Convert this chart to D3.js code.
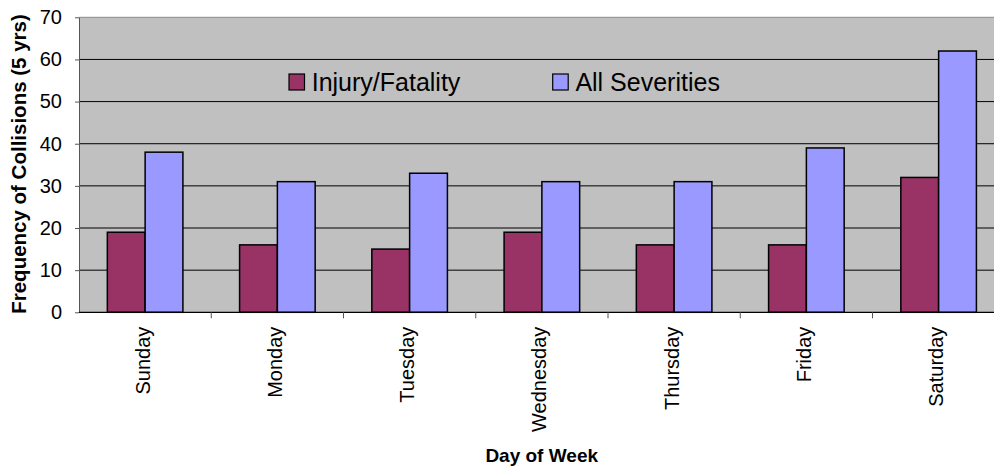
<!DOCTYPE html>
<html>
<head>
<meta charset="utf-8">
<script src="https://cdn.jsdelivr.net/npm/d3@7"></script>
<style>
  body { margin: 0; background: #fff; }
  svg { display: block; font-family: Arial, "Liberation Sans", sans-serif; }
</style>
</head>
<body>
<div id="chart"></div>
<script>
// chart data
var days = ["Sunday", "Monday", "Tuesday", "Wednesday", "Thursday", "Friday", "Saturday"];
var seriesNames = ["Injury/Fatality", "All Severities"];
var injuryFatality = [19, 16, 15, 19, 16, 16, 32];
var allSeverities = [38, 31, 33, 31, 31, 39, 62];
var yTicks = [0, 10, 20, 30, 40, 50, 60, 70];

var colours = { "Injury/Fatality": "#993366", "All Severities": "#9999ff" };

var width = 994, height = 468;
var plot = { left: 79, right: 1004.75, top: 17.3, bottom: 312.3 };

var svg = d3.select('#chart').append('svg')
    .attr('width', width)
    .attr('height', height)
    .style('overflow', 'hidden');

// scales
var x0 = d3.scaleBand()
    .domain(days)
    .range([plot.left, plot.right])
    .padding(0);

var x1 = d3.scaleBand()
    .domain(seriesNames)
    .range([0, x0.bandwidth()])
    .paddingInner(0)
    .paddingOuter(0.75);

var y = d3.scaleLinear()
    .domain([0, 70])
    .range([plot.bottom, plot.top]);

// plot area background
svg.append('rect')
    .attr('x', plot.left)
    .attr('y', plot.top)
    .attr('width', plot.right - plot.left)
    .attr('height', plot.bottom - plot.top)
    .attr('fill', '#c0c0c0');

// gridlines
svg.append('g').attr('class', 'grid')
    .selectAll('line')
    .data(yTicks.filter(function(d) { return d > 0; }))
    .enter().append('line')
    .attr('x1', plot.left)
    .attr('x2', plot.right)
    .attr('y1', function(d) { return y(d); })
    .attr('y2', function(d) { return y(d); })
    .attr('stroke', function(d) { return d === 70 ? '#8a8a8a' : '#000'; })
    .attr('stroke-width', 1);

// bars
var rows = days.map(function(d, i) {
    return { day: d, values: [
        { key: seriesNames[0], value: injuryFatality[i] },
        { key: seriesNames[1], value: allSeverities[i] }
    ] };
});

svg.append('g').attr('class', 'bars')
    .selectAll('g')
    .data(rows)
    .enter().append('g')
    .attr('transform', function(d) { return 'translate(' + x0(d.day) + ',0)'; })
    .selectAll('rect')
    .data(function(d) { return d.values; })
    .enter().append('rect')
    .attr('x', function(d) { return x1(d.key); })
    .attr('y', function(d) { return y(d.value); })
    .attr('width', x1.bandwidth())
    .attr('height', function(d) { return y(0) - y(d.value); })
    .attr('fill', function(d) { return colours[d.key]; })
    .attr('stroke', '#000')
    .attr('stroke-width', 1.5);

// y axis
var yAxis = svg.append('g')
    .attr('transform', 'translate(' + plot.left + ',0)')
    .call(d3.axisLeft(y).tickValues(yTicks).tickSizeInner(4).tickSizeOuter(0).tickPadding(13));
yAxis.select('.domain').attr('stroke', '#555');
yAxis.selectAll('.tick line').attr('stroke', '#555');
yAxis.selectAll('text')
    .attr('font-size', '20px')
    .attr('font-family', 'Arial, "Liberation Sans", sans-serif')
    .attr('fill', '#000');

// x axis line and ticks at category boundaries
svg.append('line')
    .attr('x1', plot.left).attr('x2', plot.right)
    .attr('y1', plot.bottom).attr('y2', plot.bottom)
    .attr('stroke', '#000').attr('stroke-width', 1.2);

svg.append('g').selectAll('line')
    .data(days.slice(1))
    .enter().append('line')
    .attr('x1', function(d) { return x0(d); })
    .attr('x2', function(d) { return x0(d); })
    .attr('y1', plot.bottom)
    .attr('y2', plot.bottom + 6)
    .attr('stroke', '#555');

// x labels, rotated
svg.append('g').selectAll('text')
    .data(days)
    .enter().append('text')
    .attr('transform', function(d) {
        return 'translate(' + (x0(d) + x0.bandwidth() / 2) + ',' + plot.bottom + ') rotate(-90)';
    })
    .attr('x', -14.4)
    .attr('dy', '0.22em')
    .attr('text-anchor', 'end')
    .attr('font-size', '20px')
    .text(function(d) { return d; });

// axis titles
svg.append('text')
    .attr('x', 541.7)
    .attr('y', 461.5)
    .attr('text-anchor', 'middle')
    .attr('font-size', '19px')
    .attr('font-weight', 'bold')
    .text('Day of Week');

svg.append('text')
    .attr('transform', 'translate(26,164) rotate(-90)')
    .attr('text-anchor', 'middle')
    .attr('font-size', '20.5px')
    .attr('font-weight', 'bold')
    .text('Frequency of Collisions (5 yrs)');

// legend (inside plot area, no frame)
var legendX = [289, 552.7];
var legend = svg.append('g').attr('class', 'legend')
    .selectAll('g')
    .data(seriesNames)
    .enter().append('g')
    .attr('transform', function(d, i) { return 'translate(' + legendX[i] + ',74)'; });

legend.append('rect')
    .attr('width', 15.5)
    .attr('height', 16)
    .attr('fill', function(d) { return colours[d]; })
    .attr('stroke', '#000')
    .attr('stroke-width', 1.2);

legend.append('text')
    .attr('x', 22.7)
    .attr('y', 16.8)
    .attr('font-size', '25px')
    .text(function(d) { return d; });
</script>
</body>
</html>
